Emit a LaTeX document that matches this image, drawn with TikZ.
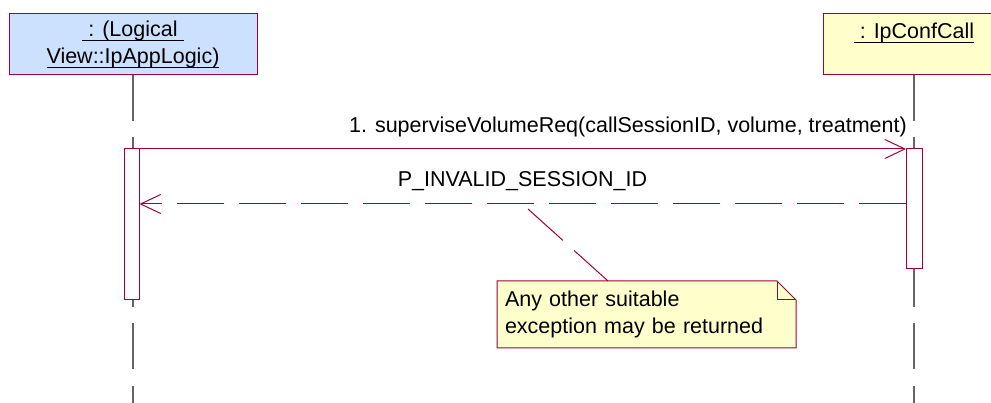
\documentclass[tikz,border=0pt]{standalone}
\usepackage{fontspec}
\setmainfont{Liberation Sans}
\usetikzlibrary{arrows.meta,backgrounds}
\definecolor{rosered}{RGB}{160,0,60}
\definecolor{objblue}{RGB}{204,225,253}
\definecolor{noteyellow}{RGB}{255,255,204}
\definecolor{lifegray}{RGB}{100,100,100}
\newcommand{\ulabel}[1]{\setbox0\hbox{#1}\rlap{\rule[-4.3pt]{\wd0}{1.3pt}}\box0}

\begin{document}
\begin{tikzpicture}[x=1pt, y=-1pt,
  obj/.style={draw=rosered, line width=1pt, minimum height=61pt, inner sep=0pt, align=center, font=\fontsize{21.5}{27}\selectfont},
  act/.style={draw=rosered, fill=white, line width=1pt, minimum width=15pt, inner sep=0pt, outer sep=0pt},
  msg/.style={rosered, line width=1pt, -{Straight Barb[length=20pt,width=19pt]}},
  ret/.style={msg, dash pattern=on 47pt off 15pt},
  life/.style={lifegray, line width=1.2pt, dash pattern=on 46pt off 16pt},
  lbl/.style={font=\fontsize{21.5}{27}\selectfont, inner sep=0pt},
  note/.style={lbl, align=left, text width=283pt, minimum height=67pt, inner xsep=8pt, outer sep=0pt}
]
\useasboundingbox (0,0) rectangle (991,403);
\node[obj, fill=objblue, minimum width=248pt] (objL) at (133,44.5) {\ulabel{\ : (Logical\ }\\\ulabel{View::IpAppLogic)}};
\node[obj, fill=noteyellow, minimum width=182pt] (objR) at (914,44.5) {\ulabel{\ : IpConfCall}\\\mbox{}};
\coordinate (bot) at (0,403);
\foreach \o in {objL,objR}
  \draw[life] (\o.south) -- (\o.south |- bot);
\node[act, minimum height=151pt] (actL) at (132,224.5) {};
\node[act, minimum width=16pt, minimum height=120pt] (actR) at (914,209) {};
\draw[msg] (actL.north east) -- (actR.north west);
\node[lbl, anchor=base east] (m1) at (907,133) {1. superviseVolumeReq(callSessionID, volume, treatment)};
\coordinate (r) at (0,204);
\draw[ret] (actR.west |- r) -- (actL.east |- r);
\node[lbl, anchor=base] (m2) at (522.5,187) {P\_INVALID\_SESSION\_ID};
\node[note] (nt) at (646.5,314.5) {Any other suitable\\exception may be returned};
\begin{scope}[on background layer]
  \filldraw[draw=rosered, fill=noteyellow, line width=1pt] (nt.north west) -- ([xshift=-19pt]nt.north east) -- ([yshift=-19pt]nt.north east) -- (nt.south east) -- (nt.south west) -- cycle;
\end{scope}
\draw[rosered, line width=1pt] ([xshift=-19pt]nt.north east) |- ([yshift=-19pt]nt.north east);
\coordinate (anc) at (528,209);
\draw[rosered, line width=1pt, dash pattern=on 47pt off 15pt] (anc) -- ([xshift=111pt]nt.north west);
\end{tikzpicture}
\end{document}
